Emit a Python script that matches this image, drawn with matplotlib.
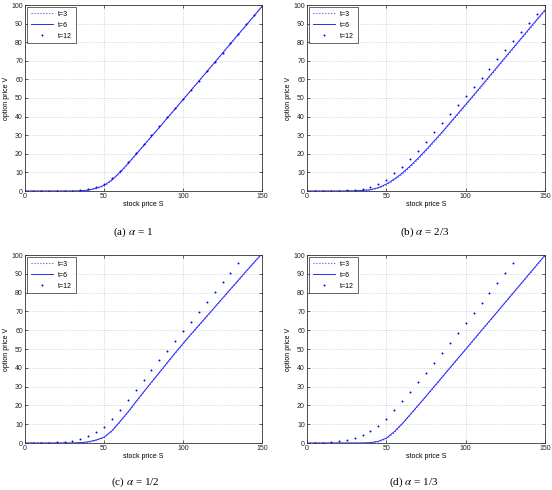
import matplotlib
matplotlib.use('Agg')
import matplotlib.pyplot as plt

plt.rcParams['font.family'] = ['Liberation Sans', 'DejaVu Sans']
plt.rcParams['mathtext.fontset'] = 'stix'

# stock price grid
S = [0, 5, 10, 15, 20, 25, 30, 35, 40, 45, 50, 55, 60, 65, 70, 75, 80, 85, 90, 95,
     100, 105, 110, 115, 120, 125, 130, 135, 140, 145, 150]

# (a) alpha = 1
v3_a = [0, 0, 0, 0, 0, 0, 0, 0.1, 0.4, 1.2, 2.5, 5.5, 9.5, 14.3, 19.2, 24.1, 29.1, 34.0, 39.0, 44.0,
        49.0, 54.0, 59.0, 64.0, 69.0, 74.0, 79.0, 84.0, 89.0, 94.0, 99.0]
v6_a = [0, 0, 0, 0, 0, 0, 0, 0.1, 0.5, 1.5, 3.0, 6.0, 10.0, 14.6, 19.5, 24.4, 29.3, 34.2, 39.2, 44.1,
        49.1, 54.1, 59.1, 64.1, 69.1, 74.1, 79.2, 84.2, 89.2, 94.2, 99.3]
v12_a = [0, 0, 0, 0, 0, 0, 0.1, 0.3, 1.0, 2.2, 4.0, 7.0, 11.0, 15.4, 20.2, 25.0, 29.9, 34.7, 39.6, 44.5,
         49.5, 54.4, 59.4, 64.4, 69.4, 74.4, 79.5, 84.5, 89.6, 94.7, 99.8]

# (b) alpha = 2/3
v3_b = [0, 0, 0, 0, 0, 0, 0.1, 0.2, 0.5, 1.5, 3.2, 5.8, 9.0, 12.8, 17.0, 21.6, 26.3, 31.0, 36.0, 41.0,
        46.0, 51.0, 56.1, 61.2, 66.3, 71.4, 76.5, 81.6, 86.7, 91.8, 96.8]
v6_b = [0, 0, 0, 0, 0, 0, 0.1, 0.3, 0.7, 1.8, 3.7, 6.4, 9.6, 13.4, 17.6, 22.1, 26.8, 31.5, 36.5, 41.5,
        46.5, 51.5, 56.6, 61.7, 66.8, 71.9, 77.0, 82.1, 87.2, 92.3, 97.3]
v12_b = [0, 0, 0, 0, 0.1, 0.3, 0.7, 1.2, 2.0, 3.6, 6.0, 9.5, 13.0, 17.0, 21.5, 26.5, 31.5, 36.4, 41.3, 46.2,
         51.1, 56.0, 60.9, 65.8, 70.7, 75.6, 80.5, 85.4, 90.3, 95.2, 100.0]

# (c) alpha = 1/2
v3_c = [0, 0, 0, 0, 0, 0, 0, 0.1, 0.4, 1.3, 2.8, 6.2, 11.0, 16.0, 21.4, 26.8, 32.0, 37.2, 42.4, 47.6,
        52.6, 57.5, 62.3, 67.1, 71.9, 76.7, 81.5, 86.3, 91.1, 95.8, 100.5]
v6_c = [0, 0, 0, 0, 0, 0, 0, 0.2, 0.6, 1.6, 3.1, 6.5, 11.3, 16.3, 21.7, 27.1, 32.3, 37.5, 42.7, 47.9,
        52.9, 57.8, 62.6, 67.4, 72.2, 77.0, 81.8, 86.6, 91.4, 96.1, 100.8]
v12_c = [0, 0, 0.05, 0.1, 0.3, 0.6, 1.0, 2.0, 3.5, 5.8, 8.7, 13.0, 17.8, 23.0, 28.2, 33.5, 38.8, 44.0, 49.2, 54.3,
         59.4, 64.6, 69.8, 75.0, 80.2, 85.4, 90.6, 95.8, 101.0, 106.0, 111.0]

# (d) alpha = 1/3
v3_d = [0, 0, 0, 0, 0, 0, 0, 0, 0.1, 0.6, 2.2, 5.6, 10.0, 14.8, 19.7, 24.6, 29.6, 34.6, 39.6, 44.6,
        49.6, 54.6, 59.6, 64.6, 69.6, 74.6, 79.6, 84.6, 89.6, 94.6, 99.6]
v6_d = [0, 0, 0, 0, 0, 0, 0, 0, 0.2, 0.9, 2.6, 6.0, 10.3, 15.1, 20.0, 24.9, 29.9, 34.9, 39.9, 44.9,
        49.9, 54.9, 59.9, 64.9, 69.9, 74.9, 79.9, 84.9, 89.9, 94.9, 99.9]
v12_d = [0, 0.02, 0.1, 0.3, 0.8, 1.5, 2.6, 4.2, 6.3, 9.2, 13.0, 17.5, 22.2, 27.2, 32.3, 37.5, 42.8, 48.1, 53.4, 58.7,
         64.0, 69.3, 74.6, 79.9, 85.2, 90.5, 95.8, 101.1, 106.4, 111.7, 117.0]

panels = [
    ('(a) $\\alpha$ = 1', v3_a, v6_a, v12_a),
    ('(b) $\\alpha$ = 2/3', v3_b, v6_b, v12_b),
    ('(c) $\\alpha$ = 1/2', v3_c, v6_c, v12_c),
    ('(d) $\\alpha$ = 1/3', v3_d, v6_d, v12_d),
]

# axes boxes in pixels: left, top, right, bottom
W, H = 552, 490
boxes = [(25, 5, 262, 191), (307, 5, 545, 191), (25, 255, 262, 443), (307, 255, 545, 443)]
caption_pos = [(133, 232), (425, 232), (135, 482), (414, 482)]

fig = plt.figure(figsize=(W / 100, H / 100), dpi=100)

for (cap, v3, v6, v12), (l, t, r, b), (cx, cy) in zip(panels, boxes, caption_pos):
    ax = fig.add_axes([l / W, 1 - b / H, (r - l) / W, (b - t) / H])
    ax.plot(S, v3, ':', color='#4d4dff', lw=0.8, label='t=3')
    ax.plot(S, v6, '-', color='#2a2aff', lw=0.7, label='t=6')
    ax.plot(S, v12, '.', color='#0000e6', ms=2.8, mew=0, label='t=12')
    ax.set_xlim(0, 150)
    ax.set_ylim(0, 100)
    ax.set_xticks([0, 50, 100, 150])
    ax.set_yticks(range(0, 101, 10))
    ax.grid(True, color='#c8c8c8', ls=':', lw=0.6)
    ax.tick_params(direction='in', length=2, width=0.5, labelsize=5, pad=1.5,
                   top=True, right=True, colors='#222222')
    for sp in ax.spines.values():
        sp.set_linewidth(0.6)
        sp.set_color('#333333')
    ax.set_xlabel('stock price S', fontsize=5, labelpad=1)
    ax.set_ylabel('option price V', fontsize=5, labelpad=1)
    leg = ax.legend(loc='upper left', fontsize=5, frameon=True, fancybox=False,
                    handlelength=3.2, borderpad=0.5, labelspacing=0.6, borderaxespad=0.3)
    leg.get_frame().set_edgecolor('#222222')
    leg.get_frame().set_linewidth(0.6)
    fig.text(cx / W, 1 - cy / H, cap, ha='center', va='center', fontsize=8,
             family=['Liberation Serif', 'DejaVu Serif'])

fig.savefig('out.png', dpi=100)
